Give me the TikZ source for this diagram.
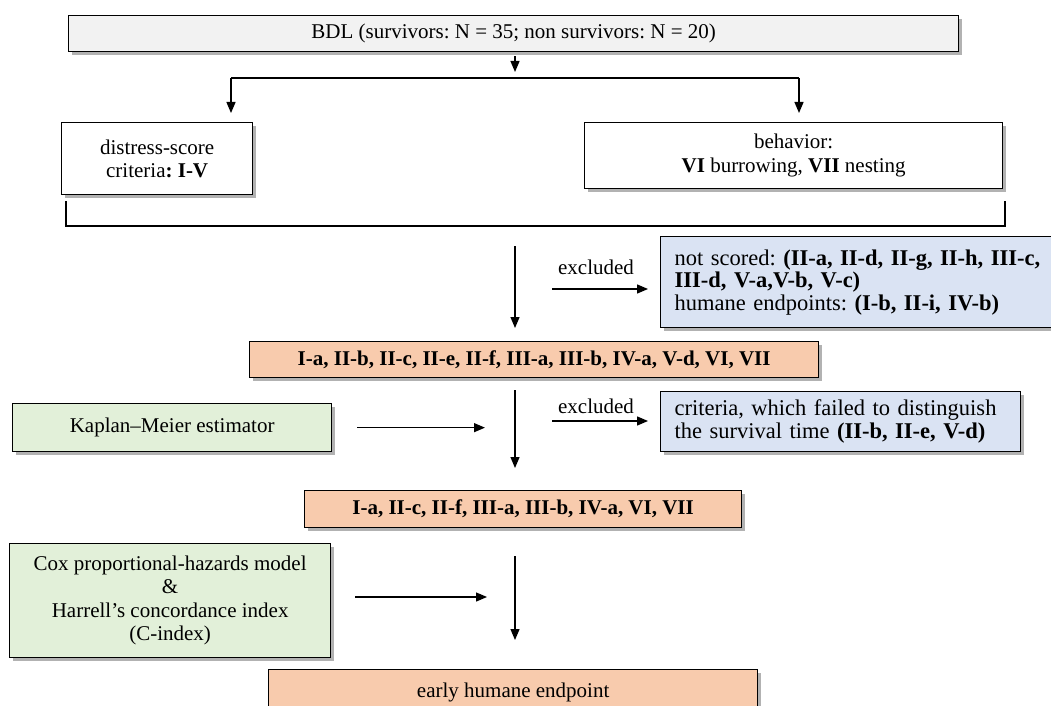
\documentclass[tikz,border=0pt]{standalone}
\usepackage{fontspec}
\setmainfont{Liberation Serif}
\usetikzlibrary{arrows.meta,shadows}
\definecolor{bdlgray}{HTML}{F2F2F2}
\definecolor{bluebox}{HTML}{DAE3F3}
\definecolor{orangebox}{HTML}{F8CBAD}
\definecolor{greenbox}{HTML}{E2F0D9}
\frenchspacing
\begin{document}
\begin{tikzpicture}[x=1pt,y=-1pt,
  font=\fontsize{21}{23.5}\selectfont\frenchspacing,
  box/.style={draw=black, line width=1.3pt, inner sep=0pt, anchor=north west, align=center,
    drop shadow={shadow xshift=3pt, shadow yshift=-3pt, fill=black, opacity=0.3}},
  lbox/.style={box, align=left, inner xsep=14pt, font=\fontsize{22.5}{22.5}\selectfont\frenchspacing},
  arr/.style={line width=1.3pt, -{Triangle[length=11pt,width=9pt]}},
  ln/.style={line width=1.3pt},
  lab/.style={inner sep=0pt},
  ]
\useasboundingbox (0,0) rectangle (1051,706);
% boxes
\node[box, fill=bdlgray, minimum width=890pt, minimum height=36pt] (bdl) at (68,15)
  {BDL (survivors: N = 35; non survivors: N = 20)};
\node[box, fill=white, minimum width=191pt, minimum height=72pt] (distress) at (61,122)
  {distress-score\\criteria\textbf{: I-V}};
\node[box, fill=white, minimum width=418pt, minimum height=66pt] (behav) at (584,122)
  {behavior:\\\textbf{VI} burrowing, \textbf{VII} nesting};
\node[lbox, fill=bluebox, text width=380pt, minimum height=91pt] (blue1) at (660,236)
  {not scored: \textbf{(II-a, II-d, II-g, II-h, III-c,}\\\textbf{III-d, V-a,V-b, V-c)}\\humane endpoints: \textbf{(I-b, II-i, IV-b)}};
\node[box, fill=orangebox, minimum width=569pt, minimum height=36pt] (or1) at (249,341)
  {\textbf{I-a, II-b, II-c, II-e, II-f, III-a, III-b, IV-a, V-d, VI, VII}};
\node[box, fill=greenbox, minimum width=319pt, minimum height=48pt] (km) at (12,403)
  {Kaplan--Meier estimator};
\node[lbox, fill=bluebox, text width=332pt, minimum height=60pt] (blue2) at (660,391)
  {criteria, which failed to distinguish\\the survival time \textbf{(II-b, II-e, V-d)}};
\node[box, fill=orangebox, minimum width=437pt, minimum height=37pt] (or2) at (304,490)
  {\textbf{I-a, II-c, II-f, III-a, III-b, IV-a, VI, VII}};
\node[box, fill=greenbox, minimum width=321pt, minimum height=114pt] (cox) at (9,543)
  {Cox proportional-hazards model\\\&\\Harrell's concordance index\\(C-index)};
\node[box, fill=orangebox, minimum width=489pt, minimum height=46pt] (final) at (268,669)
  {early humane endpoint};
% helper coordinates
\coordinate (split) at (515,78);
\coordinate (sl) at (231,78);
\coordinate (sr) at (799,78);
\coordinate (brl) at (66,201);
\coordinate (brr) at (1005,201);
\coordinate (brm) at (515,226);
\coordinate (ex1) at (552,289);
\coordinate (c2) at (515,390);
\coordinate (ex2) at (552,421);
\coordinate (c3) at (515,556);
% connectors
\draw[arr, shorten <=4pt, shorten >=6pt] (bdl.south -| split) -- (split);
\draw[ln] (sl) -- (sr);
\draw[arr, shorten >=9pt] (sl) -- (sl |- distress.north);
\draw[arr, shorten >=9pt] (sr) -- (sr |- behav.north);
\draw[ln] (brl) |- (brr |- brm) -- (brr);
\draw[arr, shorten <=20pt, shorten >=13pt] (brm) -- (brm |- or1.north);
\draw[arr, shorten >=12pt] (ex1) -- (ex1 -| blue1.west);
\node[lab] (lab1) at (596,267) {excluded};
\draw[arr, shorten >=22pt] (c2) -- (c2 |- or2.north);
\draw[arr, shorten >=12pt] (ex2) -- (ex2 -| blue2.west);
\node[lab] (lab2) at (596,406) {excluded};
\draw[arr, shorten <=25pt, shorten >=30pt] (km.east) -- (km.east -| c2);
\draw[arr, shorten >=29pt] (c3) -- (c3 |- final.north);
\draw[arr, shorten <=24pt, shorten >=28pt] (cox.east |- 0,597) -- (c3 |- 0,597);
\end{tikzpicture}
\end{document}
